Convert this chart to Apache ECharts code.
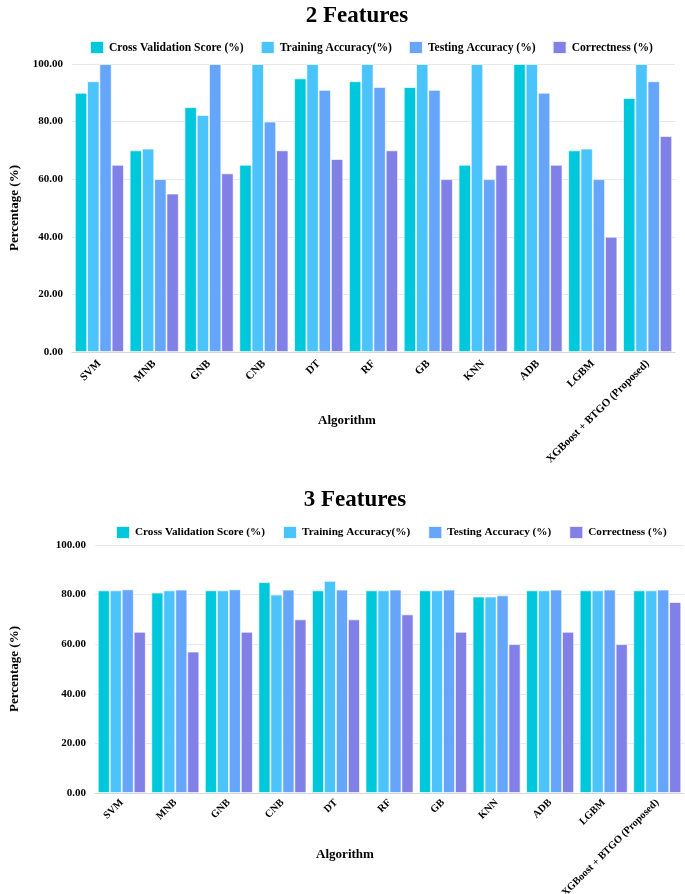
<!DOCTYPE html>
<html><head><meta charset="utf-8">
<script src="https://cdn.jsdelivr.net/npm/echarts@6/dist/echarts.min.js"></script>
<style>html,body{margin:0;padding:0;background:#fff}#c{width:685px;height:894px}</style>
</head><body><div id="c"></div>
<script>
const categories = ['SVM','MNB','GNB','CNB','DT','RF','GB','KNN','ADB','LGBM','XGBoost + BTGO (Proposed)'];
const seriesNames = ['Cross Validation Score (%)','Training Accuracy(%)','Testing Accuracy (%)','Correctness (%)'];
// 2 Features
const cv2    = [90, 70, 85, 65, 95, 94, 92, 65, 100, 70, 88.2];
const train2 = [94, 70.6, 82.3, 100, 100, 100, 100, 100, 100, 70.6, 100];
const test2  = [100, 60, 100, 80, 91, 92, 91, 60, 90, 60, 94];
const corr2  = [65, 55, 62, 70, 67, 70, 60, 65, 65, 40, 75];
// 3 Features
const cv3    = [81.7, 80.8, 81.7, 85, 81.7, 81.7, 81.7, 79.2, 81.7, 81.7, 81.7];
const train3 = [81.7, 81.7, 81.7, 80, 85.5, 81.7, 81.7, 79.2, 81.7, 81.7, 81.7];
const test3  = [82.1, 82, 82.1, 82, 82, 82, 82, 79.7, 82, 82, 82];
const corr3  = [65, 57, 65, 70, 70, 72, 65, 60, 65, 60, 77];
const yTicks = {min: 0, max: 100, interval: 20};

const colors = ['#00c8dc','#4ac4fb','#66a6fa','#8080e6'];
const serif = '"Liberation Serif", "DejaVu Serif", serif';
const chart = echarts.init(document.getElementById('c'));

function xAx(gi, fs, mg){
  return {gridIndex: gi, type:'category', data: categories,
    axisLine:{lineStyle:{color:'#d6d6d6'}}, axisTick:{show:false},
    axisLabel:{rotate:45, interval:0, color:'#000', fontFamily:serif, fontWeight:'bold', fontSize:fs, margin:mg}};
}
function yAx(gi, gap){
  return {gridIndex: gi, type:'value', min:yTicks.min, max:yTicks.max, interval:yTicks.interval,
    name:'Percentage (%)', nameLocation:'middle', nameGap:gap,
    nameTextStyle:{color:'#000', fontFamily:serif, fontWeight:'bold', fontSize:13},
    axisLabel:{formatter:v=>v.toFixed(2), color:'#000', fontFamily:serif, fontWeight:'bold', fontSize:11, margin:9},
    axisLine:{show:false}, axisTick:{show:false},
    splitLine:{lineStyle:{color:'#e8e8e8'}}};
}
const data2 = [cv2, train2, test2, corr2];
const data3 = [cv3, train3, test3, corr3];
const series = [];
[data2, data3].forEach((ds, gi) => {
  ds.forEach((d, i) => {
    series.push({name: seriesNames[i], type:'bar', xAxisIndex:gi, yAxisIndex:gi, data:d,
      barGap:'0%', barCategoryGap:'10.5%',
      itemStyle:{color:colors[i], borderColor:'rgba(255,255,255,0.85)', borderWidth:0.8}});
  });
});
const legendStyle1 = {fontFamily:serif, fontWeight:'bold', fontSize:11.6, color:'#000'};
const legendStyle2 = {fontFamily:serif, fontWeight:'bold', fontSize:11.2, color:'#000'};
chart.setOption({
  animation:false,
  color: colors,
  title:[
    {text:'2 Features', left:352, top:0, textAlign:'center', textStyle:{fontFamily:serif, fontWeight:'bold', fontSize:23, color:'#000'}},
    {text:'3 Features', left:350, top:484, textAlign:'center', textStyle:{fontFamily:serif, fontWeight:'bold', fontSize:23, color:'#000'}},
    {text:'Algorithm', left:342, top:409, textAlign:'center', textStyle:{fontFamily:serif, fontWeight:'bold', fontSize:13, color:'#000'}},
    {text:'Algorithm', left:340, top:843, textAlign:'center', textStyle:{fontFamily:serif, fontWeight:'bold', fontSize:13, color:'#000'}}
  ],
  legend:[
    {data:seriesNames, left:89, top:40, width:620, padding:0, itemWidth:14, itemHeight:13, itemGap:16, textStyle:legendStyle1, icon:'rect'},
    {data:seriesNames, left:115, top:525, width:620, padding:0, itemWidth:14, itemHeight:13, itemGap:17, textStyle:legendStyle2, icon:'rect'}
  ],
  grid:[
    {left:72, right:10, top:64, height:288, outerBoundsMode:'none', containLabel:false},
    {left:95, right:1, top:545, height:248, outerBoundsMode:'none', containLabel:false}
  ],
  xAxis:[xAx(0, 11, 10), xAx(1, 10.4, 8)],
  yAxis:[yAx(0, 51), yAx(1, 74)],
  series: series
});
</script></body></html>
